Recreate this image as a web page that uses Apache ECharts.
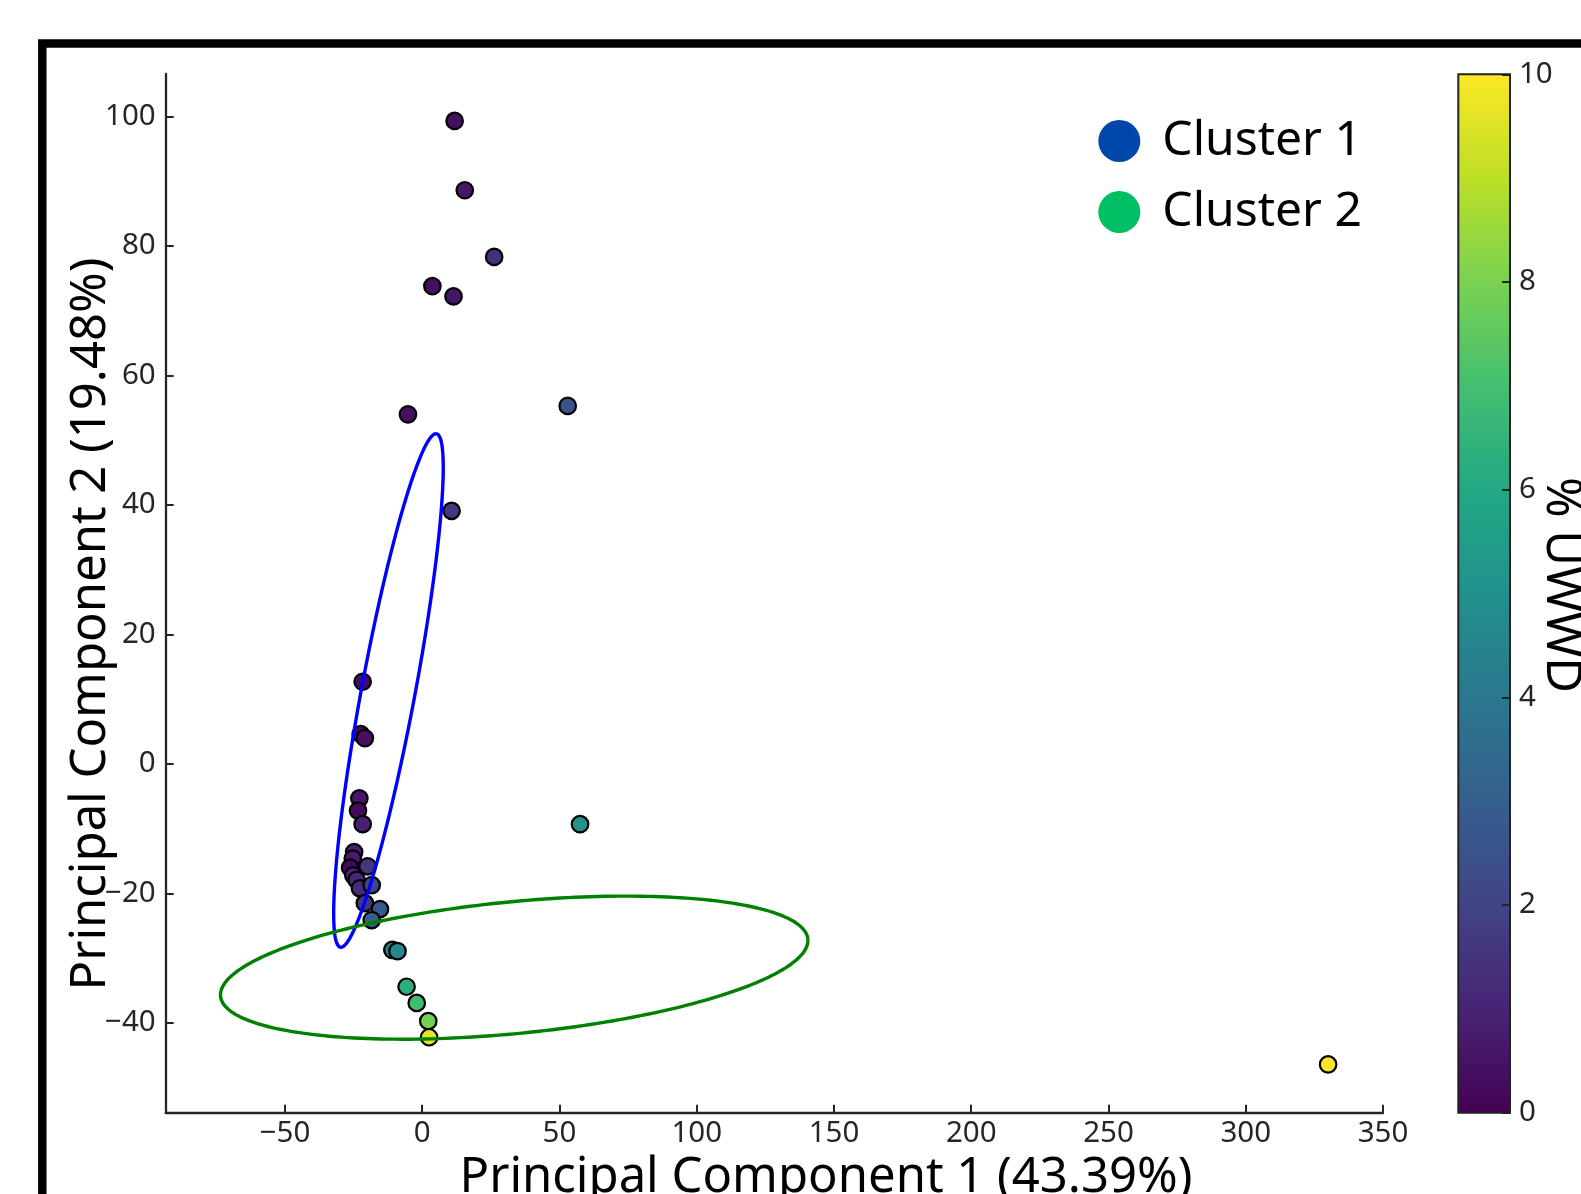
<!DOCTYPE html>
<html>
<head>
<meta charset="utf-8">
<script src="https://cdn.jsdelivr.net/npm/echarts@6/dist/echarts.min.js"></script>
<style>
html,body{margin:0;padding:0;background:#fff;}
#chart{width:1581px;height:1194px;}
</style>
</head>
<body>
<div id="chart"></div>
<script>
// ---- data ----
const pc1 = [11.8, 15.5, 26.2, 3.7, 11.4, -5.2, 53.0, 10.7, -21.7, -22.4, -20.9, -22.9, -23.4, -21.7, 57.5,
             -24.8, -25.3, -26.3, -19.9, -25.1, -23.9, -22.7, -18.4, -20.9, -15.4, -18.4,
             -10.9, -9.0, -5.7, -2.0, 2.2, 2.5, 330.0];
const pc2 = [99.3, 88.6, 78.3, 73.8, 72.2, 54.0, 55.3, 39.1, 12.7, 4.6, 4.0, -5.3, -7.2, -9.3, -9.3,
             -13.6, -14.6, -16.0, -15.8, -17.2, -17.9, -19.2, -18.7, -21.5, -22.4, -24.1,
             -28.7, -28.9, -34.4, -36.9, -39.7, -42.2, -46.4];
const uwwd = [0.4, 0.6, 1.3, 0.4, 0.6, 0.4, 2.6, 1.5, 0.3, 0.2, 0.4, 0.6, 0.3, 0.9, 5.1,
              0.8, 0.7, 0.2, 1.6, 1.0, 1.1, 1.2, 2.0, 1.5, 2.8, 3.0,
              4.3, 4.7, 6.3, 6.9, 7.9, 9.6, 10.0];

// cluster ellipses: [centerX, centerY, axis1X, axis1Y, axis2X, axis2Y]
const cluster1Ellipse = [-12.3, 11.35, 17.5, 39.65, 9.6, -0.75];
const cluster2Ellipse = [33.5, -31.45, 107.0, 4.2, 0.0, 10.22];
const clusterNames = ['Cluster 1', 'Cluster 2'];

const xTicks = [-50, 0, 50, 100, 150, 200, 250, 300, 350];
const yTicks = [-40, -20, 0, 20, 40, 60, 80, 100];
const cbarTicks = [0, 2, 4, 6, 8, 10];

const viridis = ['#440154', '#482475', '#414487', '#355f8d', '#2a788e', '#21918c',
                 '#22a884', '#44bf70', '#7ad151', '#bddf26', '#fde725'];

// ---- chart ----
const FONT = 'Noto Sans';
const AX = '#262626';
const points = pc1.map((x, i) => [x, pc2[i], uwwd[i]]);
const minus = v => String(v).replace('-', '\u2212');

function ellipseSeries(name, params, stroke, legendColor) {
  return {
    name: name,
    type: 'custom',
    xAxisIndex: 0, yAxisIndex: 0,
    coordinateSystem: 'cartesian2d',
    itemStyle: { color: legendColor },
    z: 5,
    silent: true,
    data: [params],
    renderItem: function (p, api) {
      const cx = api.value(0), cy = api.value(1), ax = api.value(2), ay = api.value(3), bx = api.value(4), by = api.value(5);
      const pts = [];
      const N = 240;
      for (let k = 0; k <= N; k++) {
        const t = 2 * Math.PI * k / N;
        pts.push(api.coord([cx + ax * Math.cos(t) + bx * Math.sin(t), cy + ay * Math.cos(t) + by * Math.sin(t)]));
      }
      return { type: 'polyline', shape: { points: pts }, style: { stroke: stroke, lineWidth: 3.4, fill: null } };
    }
  };
}

const chart = echarts.init(document.getElementById('chart'), null, { renderer: 'canvas' });
chart.setOption({
  backgroundColor: '#ffffff',
  animation: false,
  textStyle: { fontFamily: FONT },
  grid: [
    { left: 165.7, top: 74, width: 1217.3, height: 1038.7, containLabel: false },
    { left: 1458.3, top: 74.3, width: 51.7, height: 1038.4, show: true,
      borderColor: '#222', borderWidth: 2,
      backgroundColor: { type: 'linear', x: 0, y: 1, x2: 0, y2: 0,
        colorStops: viridis.map((c, i) => ({ offset: i / (viridis.length - 1), color: c })) } }
  ],
  xAxis: [
    { type: 'value', gridIndex: 0, min: -93.45, max: 350, scale: true,
      axisLine: { show: true, onZero: false, lineStyle: { color: AX, width: 2.3 } },
      axisTick: { show: true, inside: true, length: 8, lineStyle: { color: AX, width: 2 }, customValues: xTicks },
      axisLabel: { show: true, fontSize: 29.5, color: AX, fontFamily: FONT, margin: 6, customValues: xTicks, formatter: minus },
      splitLine: { show: false } },
    { type: 'value', gridIndex: 1, min: 0, max: 1, show: false }
  ],
  yAxis: [
    { type: 'value', gridIndex: 0, min: -53.85, max: 106.55, scale: true,
      axisLine: { show: true, onZero: false, lineStyle: { color: AX, width: 2.3 } },
      axisTick: { show: true, inside: true, length: 8, lineStyle: { color: AX, width: 2 }, customValues: yTicks },
      axisLabel: { show: true, fontSize: 29.5, color: AX, fontFamily: FONT, margin: 10, customValues: yTicks, formatter: minus },
      splitLine: { show: false } },
    { type: 'value', gridIndex: 1, min: 0, max: 10, interval: 2, position: 'right',
      axisLine: { show: false, onZero: false },
      axisTick: { show: true, inside: true, length: 8, lineStyle: { color: '#222', width: 2 } },
      axisLabel: { show: true, fontSize: 29.5, color: AX, fontFamily: FONT, margin: 9 },
      splitLine: { show: false } }
  ],
  visualMap: {
    show: false, type: 'continuous', min: 0, max: 10, dimension: 2, seriesIndex: 0,
    inRange: { color: viridis }
  },
  legend: {
    orient: 'vertical', left: 1093.3, top: 112, padding: 5,
    itemWidth: 42, itemHeight: 42, itemGap: 23, selectedMode: false,
    textStyle: { fontSize: 48, lineHeight: 42, color: '#000', fontFamily: FONT, padding: [0, 0, 0, 17] },
    data: [
      { name: clusterNames[0], icon: 'circle', itemStyle: { color: '#0047AB', borderWidth: 0 } },
      { name: clusterNames[1], icon: 'circle', itemStyle: { color: '#00BF63', borderWidth: 0 } }
    ]
  },
  series: [
    { type: 'scatter', xAxisIndex: 0, yAxisIndex: 0, data: points, symbolSize: 16.5, z: 3,
      itemStyle: { borderColor: '#000', borderWidth: 2.2, opacity: 1 } },
    ellipseSeries(clusterNames[0], cluster1Ellipse, '#0000ff', '#0047AB'),
    ellipseSeries(clusterNames[1], cluster2Ellipse, '#008000', '#00BF63')
  ],
  graphic: [
    { type: 'rect', shape: { x: 42.3, y: 43.5, width: 3000, height: 3000 }, style: { fill: null, stroke: '#000', lineWidth: 8.4 }, z: 100, silent: true },
    { type: 'text', x: 826, y: 1178, style: { text: 'Principal Component 1 (43.39%)', font: '49px "Noto Sans"', fill: '#000', align: 'center', verticalAlign: 'middle' }, silent: true },
    { type: 'text', x: 91, y: 624, rotation: Math.PI / 2, style: { text: 'Principal Component 2 (19.48%)', font: '49px "Noto Sans"', fill: '#000', align: 'center', verticalAlign: 'middle' }, silent: true },
    { type: 'text', x: 1561, y: 585, rotation: -Math.PI / 2, style: { text: '% UWWD', font: '49px "Noto Sans"', fill: '#000', align: 'center', verticalAlign: 'middle' }, silent: true }
  ]
});
</script>
</body>
</html>
